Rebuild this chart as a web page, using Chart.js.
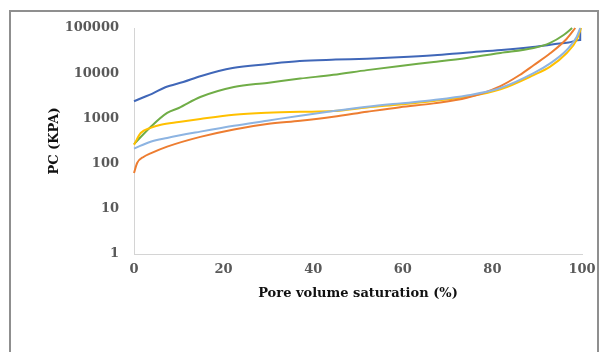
<!DOCTYPE html>
<html>
<head>
<meta charset="utf-8">
<script src="https://cdn.jsdelivr.net/npm/chart.js@4"></script>
<style>
  html, body { margin: 0; padding: 0; background: #fff; overflow: hidden; }
  #wrap { position: relative; width: 605px; height: 352px; overflow: hidden; }
  #frame { position: absolute; left: 9px; top: 10px; width: 590px; height: 1000px; border-left: 2px solid #8f8f8f; border-top: 2px solid #8f8f8f; border-right: 2px solid #8f8f8f; box-sizing: border-box; }
  #c { position: absolute; left: 0; top: 0; }
</style>
</head>
<body>
<div id="wrap">
  <div id="frame"></div>
  <canvas id="c" width="605" height="352"></canvas>
</div>
<script>
// capillary pressure curves, saturation (%) vs Pc (kPa)
let xTicks = [0, 20, 40, 60, 80, 100];
let yTicks = [1, 10, 100, 1000, 10000, 100000];

let satBlue = [0, 2, 4, 7, 11, 15, 22, 30, 37, 45, 52, 59, 67, 74, 82, 89, 94, 97, 99.6, 99.6];
let pcBlue  = [2400, 2900, 3500, 4900, 6400, 8700, 13000, 16000, 18600, 20000, 21000, 22500, 25000, 28500, 32600, 38000, 44000, 48000, 54000, 100000];

let satOrange = [0, 0.7, 2.2, 3.7, 7.4, 14.8, 22.3, 29.7, 37.1, 44.5, 52, 59.4, 66.9, 74.3, 81.8, 86, 89.2, 92.9, 96.6, 98.5];
let pcOrange  = [62, 103, 142, 168, 237, 390, 570, 750, 890, 1090, 1400, 1770, 2150, 2850, 5200, 9000, 15000, 27500, 58000, 100000];

let satGreen = [0, 3.7, 7.4, 10, 14.8, 22.3, 29.7, 37.1, 44.5, 52, 59.4, 66.9, 74.3, 81.8, 89.2, 92.9, 95.9, 97.8];
let pcGreen  = [270, 646, 1320, 1700, 2970, 4950, 6100, 7600, 9200, 11700, 14500, 17700, 21800, 28000, 36000, 47000, 70000, 100000];

let satYellow = [0, 1.5, 3.7, 6, 10, 14.8, 22.3, 29.7, 37.1, 44.5, 52, 59.4, 66.9, 74.3, 81.8, 89.2, 92.9, 96.6, 98.8, 99.8];
let pcYellow  = [260, 475, 615, 720, 830, 970, 1200, 1330, 1400, 1450, 1750, 2040, 2430, 3000, 4400, 9100, 14000, 28000, 54000, 100000];

let satLight = [0, 3.7, 7.4, 14.8, 22.3, 29.7, 37.1, 44.5, 52, 59.4, 66.9, 74.3, 81.8, 89.2, 92.9, 96.6, 98.8, 99.6];
let pcLight  = [215, 305, 370, 510, 690, 890, 1150, 1450, 1800, 2150, 2550, 3200, 4700, 10000, 16500, 32600, 63000, 100000];

function pts(xs, ys) {
  return xs.map((x, i) => ({x: x, y: ys[i]}));
}

function line(data, color) {
  return {
    data: data,
    borderColor: color,
    borderWidth: 2,
    pointRadius: 0,
    showLine: true,
    fill: false,
    cubicInterpolationMode: 'monotone',
    clip: 4
  };
}

let tickFont = {family: 'DejaVu Serif', size: 13, weight: 'bold'};

new Chart(document.getElementById('c'), {
  type: 'scatter',
  data: {
    datasets: [
      line(pts(satLight, pcLight), '#8db4e2'),
      line(pts(satOrange, pcOrange), '#ed7d31'),
      line(pts(satYellow, pcYellow), '#ffc000'),
      line(pts(satGreen, pcGreen), '#70ad47'),
      line(pts(satBlue, pcBlue), '#4067b8')
    ]
  },
  options: {
    responsive: false,
    animation: false,
    layout: {padding: {left: 0, top: 28, right: 23, bottom: 0}},
    plugins: {legend: {display: false}, tooltip: {enabled: false}},
    scales: {
      x: {
        type: 'linear',
        min: 0, max: 100,
        afterBuildTicks: s => { s.ticks = xTicks.map(v => ({value: v})); },
        afterFit: s => { s.height = 98; },
        grid: {drawOnChartArea: false, drawTicks: false},
        border: {display: true, color: '#d4d4d4', width: 1},
        ticks: {font: tickFont, color: '#595959', padding: 8, maxRotation: 0},
        title: {
          display: true,
          text: 'Pore volume saturation (%)',
          font: tickFont,
          color: '#111',
          padding: {top: 0, bottom: 51}
        }
      },
      y: {
        type: 'logarithmic',
        min: 1, max: 100000,
        afterBuildTicks: s => { s.ticks = yTicks.map(v => ({value: v})); },
        afterFit: s => { s.width = 134; },
        grid: {drawOnChartArea: false, drawTicks: false},
        border: {display: true, color: '#d4d4d4', width: 1},
        ticks: {font: tickFont, color: '#595959', padding: 15, callback: v => String(v)},
        title: {
          display: true,
          text: 'PC (KPA)',
          font: tickFont,
          color: '#111',
          padding: {top: 47, bottom: 0}
        }
      }
    }
  }
});
</script>
</body>
</html>
